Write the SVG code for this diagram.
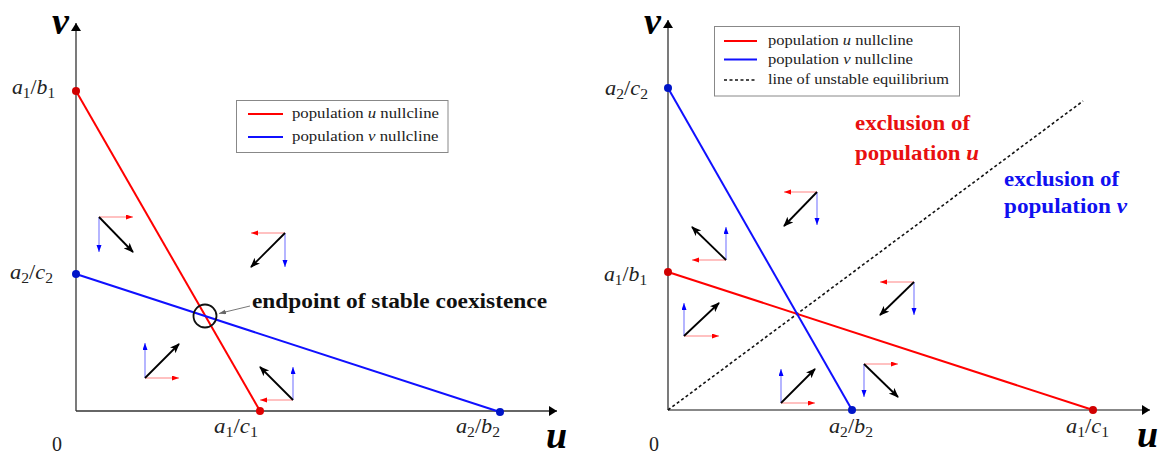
<svg xmlns="http://www.w3.org/2000/svg" width="1161" height="459" viewBox="0 0 1161 459">
<style>
  .ax{stroke:#333;stroke-width:1.3;fill:none}
  .axg{stroke:#888;stroke-width:2;fill:none}
  .nr{stroke:#f00;stroke-width:2;fill:none}
  .nb{stroke:#1010ff;stroke-width:2;fill:none}
  .dash{stroke:#111;stroke-width:1.6;stroke-dasharray:3 2.5;fill:none}
  .ar{stroke:#f33;stroke-opacity:0.6;stroke-width:1.2;fill:none;marker-end:url(#hr)}
  .ab{stroke:#33f;stroke-opacity:0.6;stroke-width:1.2;fill:none;marker-end:url(#hb)}
  .ak{stroke:#000;stroke-width:1.8;fill:none;marker-end:url(#hk)}
  .leg{stroke:#888;stroke-width:1;fill:#fff}
  .lt{font-family:"Liberation Serif",serif;font-size:15.5px;fill:#222}
  .m{font-family:"Liberation Serif",serif;font-size:20px;fill:#222}
  .big{font-family:"Liberation Serif",serif;font-size:38px;font-weight:bold;font-style:italic;fill:#000}
  .bt{font-family:"Liberation Serif",serif;font-size:20px;font-weight:bold}
  .i{font-style:italic}
</style>
<defs>
  <marker id="hr" markerUnits="userSpaceOnUse" markerWidth="8" markerHeight="6" refX="7" refY="2.5" orient="auto"><path d="M0,0 L7,2.5 L0,5 z" fill="#f00"/></marker>
  <marker id="hb" markerUnits="userSpaceOnUse" markerWidth="8" markerHeight="6" refX="7" refY="2.5" orient="auto"><path d="M0,0 L7,2.5 L0,5 z" fill="#00f"/></marker>
  <marker id="hk" markerUnits="userSpaceOnUse" markerWidth="11" markerHeight="9" refX="9" refY="4" orient="auto"><path d="M0,0 L10,4 L0,8 L2.5,4 z" fill="#000"/></marker>
  <marker id="ha" markerUnits="userSpaceOnUse" markerWidth="10" markerHeight="11" refX="8" refY="5" orient="auto"><path d="M0,0 L8,5 L0,10 z" fill="#000"/></marker>
  <marker id="hg" markerUnits="userSpaceOnUse" markerWidth="8" markerHeight="6" refX="7" refY="2.5" orient="auto"><path d="M0,0 L7,2.5 L0,5 z" fill="#666"/></marker>
</defs>
<rect width="1161" height="459" fill="#fff"/>

<!-- LEFT PANEL -->
<g id="left-axes">
  <line class="ax" x1="76" y1="411" x2="76" y2="23" marker-end="url(#ha)"/>
  <line class="ax" x1="76" y1="411" x2="557" y2="411" marker-end="url(#ha)"/>
  <text class="big" x="52" y="34">v</text>
  <text class="big" x="546" y="448">u</text>
  <text class="m" x="52" y="451" font-size="17">0</text>
</g>
<g id="left-nullclines">
  <line class="nr" x1="76" y1="91" x2="260" y2="411"/>
  <line class="nb" x1="76" y1="274" x2="500" y2="412"/>
</g>
<g id="left-points">
  <circle cx="76" cy="91" r="4" fill="#d00000"/>
  <circle cx="260" cy="411" r="4" fill="#e00000"/>
  <circle cx="76" cy="274" r="4" fill="#0015c8"/>
  <circle cx="500" cy="412" r="4" fill="#0015c8"/>
  <text class="m" x="12" y="94" textLength="43" lengthAdjust="spacingAndGlyphs"><tspan class="i">a</tspan><tspan font-size="14" dy="4">1</tspan><tspan dy="-4">/</tspan><tspan class="i">b</tspan><tspan font-size="14" dy="4">1</tspan></text>
  <text class="m" x="10" y="279" textLength="43" lengthAdjust="spacingAndGlyphs"><tspan class="i">a</tspan><tspan font-size="14" dy="4">2</tspan><tspan dy="-4">/</tspan><tspan class="i">c</tspan><tspan font-size="14" dy="4">2</tspan></text>
  <text class="m" x="214" y="433" textLength="44" lengthAdjust="spacingAndGlyphs"><tspan class="i">a</tspan><tspan font-size="14" dy="4">1</tspan><tspan dy="-4">/</tspan><tspan class="i">c</tspan><tspan font-size="14" dy="4">1</tspan></text>
  <text class="m" x="456" y="433" textLength="44" lengthAdjust="spacingAndGlyphs"><tspan class="i">a</tspan><tspan font-size="14" dy="4">2</tspan><tspan dy="-4">/</tspan><tspan class="i">b</tspan><tspan font-size="14" dy="4">2</tspan></text>
</g>
<g id="left-legend">
  <rect class="leg" x="236.5" y="100.5" width="211.5" height="52"/>
  <line x1="248" y1="114" x2="283" y2="114" stroke="#f00" stroke-width="2"/>
  <line x1="248" y1="137" x2="283" y2="137" stroke="#1010ff" stroke-width="2"/>
  <text class="lt" x="292" y="118" textLength="147" lengthAdjust="spacingAndGlyphs">population <tspan class="i">u</tspan> nullcline</text>
  <text class="lt" x="292" y="141" textLength="146.5" lengthAdjust="spacingAndGlyphs">population <tspan class="i">v</tspan> nullcline</text>
</g>
<g id="left-equilibrium">
  <circle cx="205" cy="316" r="11.5" fill="none" stroke="#111" stroke-width="1.8"/>
  <line x1="250" y1="306" x2="219" y2="313.5" stroke="#777" stroke-width="1" marker-end="url(#hg)"/>
  <text class="bt" x="252" y="308" fill="#111" textLength="295" lengthAdjust="spacingAndGlyphs">endpoint of stable coexistence</text>
</g>
<g id="left-field">
  <line class="ar" x1="99" y1="217" x2="133" y2="217"/><line class="ab" x1="99" y1="217" x2="99" y2="252"/><line class="ak" x1="99" y1="217" x2="133" y2="252"/>
  <line class="ar" x1="285" y1="233" x2="251" y2="233"/><line class="ab" x1="285" y1="233" x2="285" y2="267"/><line class="ak" x1="285" y1="233" x2="251" y2="267"/>
  <line class="ar" x1="145" y1="378" x2="179" y2="378"/><line class="ab" x1="145" y1="378" x2="145" y2="343"/><line class="ak" x1="145" y1="378" x2="179" y2="344"/>
  <line class="ar" x1="293" y1="400" x2="260" y2="400"/><line class="ab" x1="293" y1="400" x2="293" y2="367"/><line class="ak" x1="293" y1="400" x2="260" y2="367"/>
</g>

<!-- RIGHT PANEL -->
<g id="right-axes">
  <line class="ax" x1="668" y1="410" x2="668" y2="20" marker-end="url(#ha)"/>
  <line class="axg" x1="668" y1="410" x2="1150" y2="410" marker-end="url(#ha)"/>
  <text class="big" x="644" y="34">v</text>
  <text class="big" x="1137" y="447">u</text>
  <text class="m" x="649" y="451" font-size="17">0</text>
</g>
<g id="right-instability">
  <line class="dash" x1="668" y1="410" x2="1083" y2="101"/>
</g>
<g id="right-nullclines">
  <line class="nr" x1="668" y1="272" x2="1093" y2="410"/>
  <line class="nb" x1="668" y1="88" x2="852" y2="410"/>
</g>
<g id="right-points">
  <circle cx="668" cy="88" r="4" fill="#0015c8"/>
  <circle cx="668" cy="272" r="4" fill="#d00000"/>
  <circle cx="852" cy="410" r="4" fill="#0015c8"/>
  <circle cx="1093" cy="410" r="4" fill="#d00000"/>
  <text class="m" x="605" y="95" textLength="43" lengthAdjust="spacingAndGlyphs"><tspan class="i">a</tspan><tspan font-size="14" dy="4">2</tspan><tspan dy="-4">/</tspan><tspan class="i">c</tspan><tspan font-size="14" dy="4">2</tspan></text>
  <text class="m" x="604" y="281" textLength="43" lengthAdjust="spacingAndGlyphs"><tspan class="i">a</tspan><tspan font-size="14" dy="4">1</tspan><tspan dy="-4">/</tspan><tspan class="i">b</tspan><tspan font-size="14" dy="4">1</tspan></text>
  <text class="m" x="829" y="433" textLength="44" lengthAdjust="spacingAndGlyphs"><tspan class="i">a</tspan><tspan font-size="14" dy="4">2</tspan><tspan dy="-4">/</tspan><tspan class="i">b</tspan><tspan font-size="14" dy="4">2</tspan></text>
  <text class="m" x="1066" y="433" textLength="43" lengthAdjust="spacingAndGlyphs"><tspan class="i">a</tspan><tspan font-size="14" dy="4">1</tspan><tspan dy="-4">/</tspan><tspan class="i">c</tspan><tspan font-size="14" dy="4">1</tspan></text>
</g>
<g id="right-legend">
  <rect class="leg" x="714.5" y="26.5" width="245" height="69.5"/>
  <line x1="724" y1="41" x2="757" y2="41" stroke="#f00" stroke-width="2"/>
  <line x1="724" y1="59.5" x2="757" y2="59.5" stroke="#1010ff" stroke-width="2"/>
  <line class="dash" x1="724" y1="80" x2="757" y2="80"/>
  <text class="lt" x="768" y="45" textLength="145" lengthAdjust="spacingAndGlyphs">population <tspan class="i">u</tspan> nullcline</text>
  <text class="lt" x="768" y="63.5" textLength="145" lengthAdjust="spacingAndGlyphs">population <tspan class="i">v</tspan> nullcline</text>
  <text class="lt" x="768" y="84" textLength="181" lengthAdjust="spacingAndGlyphs">line of unstable equilibrium</text>
</g>
<g id="right-regions">
  <text class="bt" x="855" y="130" fill="#e81010" textLength="115" lengthAdjust="spacingAndGlyphs">exclusion of</text>
  <text class="bt" x="855" y="160" fill="#e81010" textLength="124" lengthAdjust="spacingAndGlyphs">population <tspan class="i">u</tspan></text>
  <text class="bt" x="1004" y="186" fill="#1010f0" textLength="115" lengthAdjust="spacingAndGlyphs">exclusion of</text>
  <text class="bt" x="1004" y="213" fill="#1010f0" textLength="123" lengthAdjust="spacingAndGlyphs">population <tspan class="i">v</tspan></text>
</g>
<g id="right-field">
  <line class="ar" x1="817" y1="192" x2="784" y2="192"/><line class="ab" x1="817" y1="192" x2="817" y2="225"/><line class="ak" x1="817" y1="192" x2="784" y2="226"/>
  <line class="ar" x1="726" y1="260" x2="692" y2="260"/><line class="ab" x1="726" y1="260" x2="726" y2="227"/><line class="ak" x1="726" y1="260" x2="692" y2="227"/>
  <line class="ar" x1="684" y1="336" x2="719" y2="336"/><line class="ab" x1="684" y1="336" x2="684" y2="303"/><line class="ak" x1="684" y1="336" x2="719" y2="303"/>
  <line class="ar" x1="914" y1="282" x2="880" y2="282"/><line class="ab" x1="914" y1="282" x2="914" y2="315"/><line class="ak" x1="914" y1="282" x2="880" y2="315"/>
  <line class="ar" x1="781" y1="403" x2="815" y2="403"/><line class="ab" x1="781" y1="403" x2="781" y2="369"/><line class="ak" x1="781" y1="403" x2="815" y2="369"/>
  <line class="ar" x1="864" y1="364" x2="898" y2="364"/><line class="ab" x1="864" y1="364" x2="864" y2="397"/><line class="ak" x1="864" y1="364" x2="898" y2="397"/>
</g>
</svg>
